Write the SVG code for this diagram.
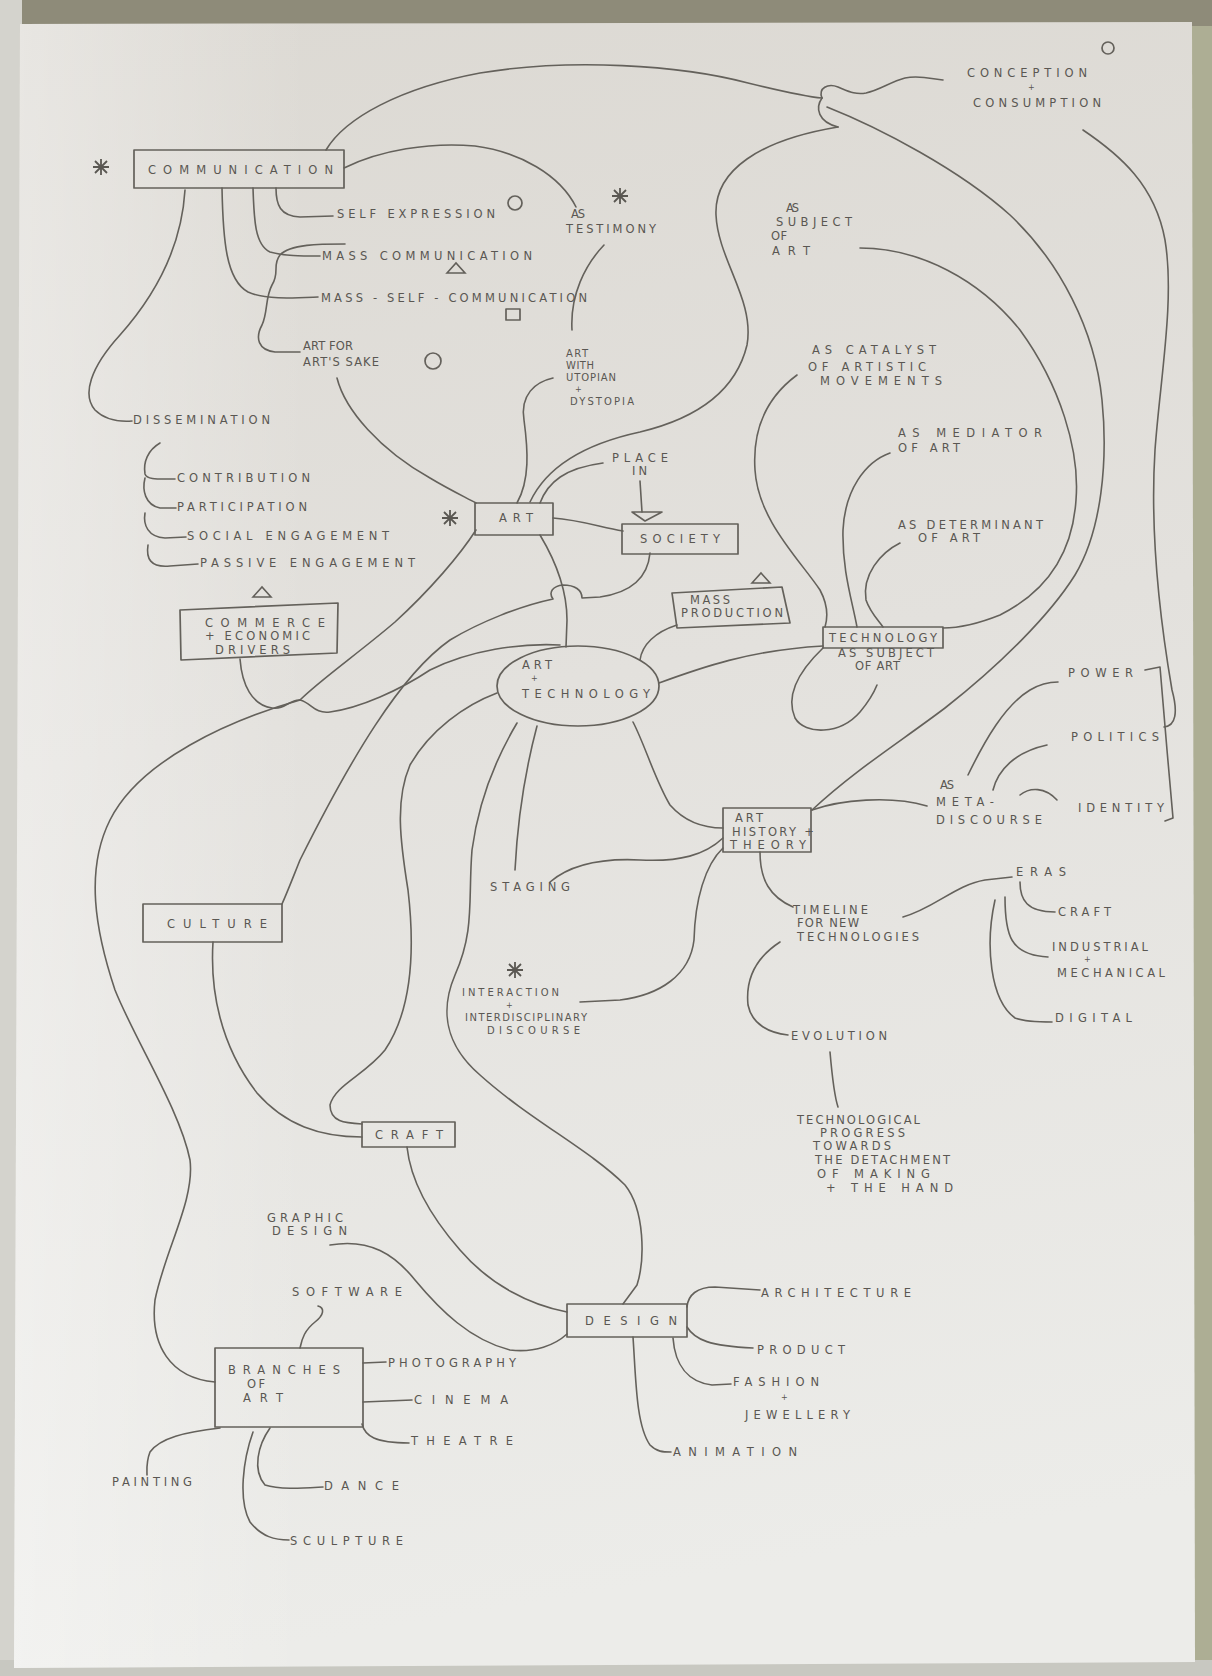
<svg xmlns="http://www.w3.org/2000/svg" width="1212" height="1676" viewBox="0 0 1212 1676">
<defs>
<linearGradient id="paper" x1="0" y1="0" x2="0.12" y2="1">
<stop offset="0" stop-color="#dcd9d3"/>
<stop offset="0.45" stop-color="#e3e1dd"/>
<stop offset="1" stop-color="#ecece9"/>
</linearGradient>
<linearGradient id="side" x1="0" y1="0" x2="1" y2="0">
<stop offset="0" stop-color="#ffffff" stop-opacity="0.35"/>
<stop offset="0.25" stop-color="#ffffff" stop-opacity="0"/>
</linearGradient>
<path id="ast" d="M-8,0H8M0,-8V8M-6,-6L6,6M-6,6L6,-6" fill="none" stroke="#5a5752" stroke-width="1.8"/>
<path id="tri" d="M-9,5 L0,-5 L9,5 Z" fill="none" stroke="#625f59" stroke-width="1.6"/>
<style>
.ln{fill:none;stroke:#64615b;stroke-width:1.6;stroke-linecap:round;stroke-linejoin:round}
.bx{fill:none;stroke:#64615b;stroke-width:1.7;stroke-linejoin:round}
.t{font-family:"DejaVu Sans","Liberation Sans",Arial,sans-serif;font-size:11.5px;fill:#5a5752}
.s{font-family:"DejaVu Sans","Liberation Sans",Arial,sans-serif;font-size:8px;fill:#5a5752}
.m{font-family:"DejaVu Sans","Liberation Sans",Arial,sans-serif;font-size:10px;fill:#5a5752}
</style>
</defs>

<rect width="1212" height="1676" fill="#adae94"/>
<rect width="1212" height="26" fill="#8e8b79"/>
<rect x="0" y="0" width="22" height="1676" fill="#d4d3cd"/>
<rect x="0" y="1660" width="1212" height="16" fill="#c8c8c1"/>
<polygon points="20,24 1192,22 1195,1662 14,1668" fill="url(#paper)"/>
<polygon points="20,24 1192,22 1195,1662 14,1668" fill="url(#side)"/>

<g id="connectors">
<path class="ln" d="M326,150 C345,118 400,88 480,73 C570,58 680,65 748,83 C785,92 810,97 822,98"/>
<path class="ln" d="M822,98 C818,88 828,83 838,87 C848,91 855,95 866,93 C880,90 890,82 905,78 C920,75 932,79 943,80"/>
<path class="ln" d="M822,98 C815,108 818,122 838,127"/>
<path class="ln" d="M530,502 C545,470 580,445 640,432 C690,420 735,395 747,345 C755,300 718,260 716,215 C714,170 760,140 838,127"/>
<path class="ln" d="M827,107 C880,128 960,170 1010,215 C1060,262 1095,330 1102,400 C1108,460 1102,530 1075,575 C1050,615 1000,665 945,708 C900,742 855,770 812,810"/>
<path class="ln" d="M860,248 C920,248 980,280 1020,330 C1060,385 1080,450 1076,500 C1072,560 1040,595 1000,615 C975,625 955,628 943,628"/>
<path class="ln" d="M1083,130 C1120,155 1155,185 1165,240 C1175,300 1160,380 1155,450 C1150,530 1160,620 1172,690 C1178,712 1176,726 1164,727"/>
<path class="ln" d="M1145,670 L1160,667 L1167,750 L1173,818 L1165,821"/>
<path class="ln" d="M344,168 C380,150 430,142 475,146 C520,152 560,175 576,207"/>
<path class="ln" d="M604,245 C585,265 570,295 572,330"/>
<path class="ln" d="M276,188 C276,205 280,216 300,217 L333,216"/>
<path class="ln" d="M253,188 C254,220 255,245 270,252 C285,256 300,256 320,256"/>
<path class="ln" d="M222,188 C223,240 226,280 248,292 C265,300 295,298 318,297"/>
<path class="ln" d="M345,244 C320,244 290,244 280,255 C272,265 280,272 272,285 C265,298 268,312 262,325 C255,338 258,350 275,352 L300,352"/>
<path class="ln" d="M185,190 C182,240 160,290 120,335 C90,368 82,395 95,410 C105,420 118,422 132,421"/>
<path class="ln" d="M160,443 C148,450 143,462 145,474 C147,480 158,479 175,479"/>
<path class="ln" d="M145,478 C142,490 145,505 160,508 L176,508"/>
<path class="ln" d="M145,513 C143,525 148,537 165,538 L186,537"/>
<path class="ln" d="M148,545 C146,558 150,568 170,566 L198,564"/>
<path class="ln" d="M337,378 C345,410 380,450 430,478 C450,490 465,497 476,503"/>
<path class="ln" d="M517,503 C530,480 528,450 524,420 C520,395 535,382 553,378"/>
<path class="ln" d="M540,503 C548,482 565,468 603,463"/>
<path class="ln" d="M640,481 L642,512"/>
<path class="ln" d="M632,512 L662,512 L645,521 Z"/>
<path class="ln" d="M553,518 C580,520 600,527 623,531"/>
<path class="ln" d="M540,535 C555,560 567,590 567,620 L566,647"/>
<path class="ln" d="M650,553 C648,575 635,592 600,597 L582,598 C582,590 575,585 563,585 C553,586 548,592 553,599 C520,606 480,622 450,640 C400,675 350,760 300,860 C292,880 287,893 282,904"/>
<path class="ln" d="M476,530 C460,555 430,590 395,622 C360,652 320,680 300,700"/>
<path class="ln" d="M240,659 C242,685 252,705 272,708 C285,710 290,699 300,700 C312,703 314,714 330,712 C360,708 400,690 430,670 C470,650 520,643 560,645"/>
<path class="ln" d="M300,700 C230,720 140,760 110,820 C85,870 95,930 115,990 C135,1040 180,1110 190,1160 C195,1200 165,1250 155,1300 C150,1345 170,1378 215,1382"/>
<path class="ln" d="M640,660 C642,645 655,632 677,625"/>
<path class="ln" d="M659,683 C700,668 750,650 823,646"/>
<path class="ln" d="M633,722 C645,745 655,780 670,805 C685,822 705,828 723,828"/>
<path class="ln" d="M537,726 C528,760 518,810 515,870"/>
<path class="ln" d="M517,723 C495,760 478,805 472,850 C468,900 475,930 455,975 C440,1010 445,1045 480,1075 C530,1120 590,1150 625,1185 C645,1210 645,1260 637,1285 L623,1304"/>
<path class="ln" d="M497,693 C465,705 430,730 410,765 C395,800 400,840 408,890 C415,950 412,1010 385,1050 C365,1075 335,1085 330,1105 C330,1122 345,1123 362,1124"/>
<path class="ln" d="M797,375 C770,395 752,425 755,470 C758,520 800,560 820,590 C828,605 828,617 825,627"/>
<path class="ln" d="M890,453 C865,462 845,490 843,530 C842,570 852,600 857,627"/>
<path class="ln" d="M900,543 C880,553 862,575 866,600 C870,612 878,620 883,627"/>
<path class="ln" d="M823,648 C800,670 785,695 795,718 C805,735 840,735 860,712 C870,700 875,690 877,685"/>
<path class="ln" d="M812,810 C840,800 890,795 927,806"/>
<path class="ln" d="M968,775 C985,740 1005,705 1030,690 C1040,684 1050,682 1058,682"/>
<path class="ln" d="M993,790 C998,770 1015,752 1047,745"/>
<path class="ln" d="M1020,795 C1030,787 1045,787 1057,800"/>
<path class="ln" d="M760,852 C760,880 770,897 793,907"/>
<path class="ln" d="M723,838 C705,855 680,862 640,860 C600,858 570,865 550,882"/>
<path class="ln" d="M723,848 C705,865 695,900 694,940 C690,975 660,995 620,1000 L580,1002"/>
<path class="ln" d="M903,917 C935,908 955,885 985,880 L1012,877"/>
<path class="ln" d="M1020,882 C1020,900 1027,912 1055,912"/>
<path class="ln" d="M1005,897 C1005,935 1010,955 1048,957"/>
<path class="ln" d="M995,900 C985,945 990,1000 1015,1018 C1025,1022 1040,1022 1052,1022"/>
<path class="ln" d="M780,942 C760,955 745,975 748,1005 C752,1025 770,1033 788,1035"/>
<path class="ln" d="M830,1052 C832,1075 834,1095 838,1107"/>
<path class="ln" d="M213,942 C210,990 220,1045 257,1093 C285,1125 320,1137 362,1137"/>
<path class="ln" d="M407,1147 C410,1175 425,1210 460,1250 C490,1285 530,1305 567,1312"/>
<path class="ln" d="M330,1245 C370,1238 395,1255 415,1280 C440,1310 470,1340 510,1350 C535,1353 555,1345 567,1334"/>
<path class="ln" d="M687,1307 C688,1295 697,1287 715,1287 L760,1290"/>
<path class="ln" d="M687,1327 C695,1340 710,1346 753,1348"/>
<path class="ln" d="M673,1338 C675,1365 688,1382 712,1385 L731,1384"/>
<path class="ln" d="M633,1337 C636,1380 636,1425 650,1445 C657,1452 663,1452 671,1452"/>
<path class="ln" d="M300,1348 C302,1338 305,1330 315,1322 C324,1315 325,1308 318,1306"/>
<path class="ln" d="M363,1363 L386,1362"/>
<path class="ln" d="M363,1402 L412,1400"/>
<path class="ln" d="M362,1424 C365,1436 375,1443 409,1443"/>
<path class="ln" d="M220,1428 C185,1432 160,1438 150,1452 C146,1462 147,1470 147,1475"/>
<path class="ln" d="M270,1428 C258,1445 252,1470 265,1485 C280,1490 305,1488 323,1487"/>
<path class="ln" d="M253,1432 C243,1460 238,1500 250,1522 C262,1537 275,1540 289,1540"/>
</g>

<g id="conception">
<text class="t" x="967" y="77" textLength="120">CONCEPTION</text>
<text class="s" x="1028" y="90">+</text>
<text class="t" x="973" y="107" textLength="128">CONSUMPTION</text>
<circle cx="1108" cy="48" r="6" class="bx"/>
</g>
<g id="communication">
<rect class="bx" x="134" y="150" width="210" height="38"/>
<text class="t" x="148" y="174" textLength="185">COMMUNICATION</text>
<use href="#ast" x="101" y="167"/>
</g>
<g id="self-expression">
<text class="t" x="337" y="218" textLength="158">SELF EXPRESSION</text>
<circle cx="515" cy="203" r="7" class="bx"/>
</g>
<g id="as-testimony">
<text class="t" x="571" y="218" textLength="14">AS</text>
<text class="t" x="566" y="233" textLength="90">TESTIMONY</text>
<use href="#ast" x="620" y="196"/>
</g>
<g id="mass-communication">
<text class="t" x="322" y="260" textLength="210">MASS COMMUNICATION</text>
<use href="#tri" x="456" y="268"/>
</g>
<g id="mass-self-communication">
<text class="t" x="321" y="302" textLength="266">MASS - SELF - COMMUNICATION</text>
<rect class="bx" x="506" y="309" width="14" height="11"/>
</g>
<g id="art-for-arts-sake">
<text class="t" x="303" y="350" textLength="50">ART FOR</text>
<text class="t" x="303" y="366" textLength="76">ART'S SAKE</text>
<circle cx="433" cy="361" r="8" class="bx"/>
</g>
<g id="art-utopian">
<text class="m" x="566" y="357" textLength="22">ART</text>
<text class="m" x="566" y="369" textLength="28">WITH</text>
<text class="m" x="566" y="381" textLength="50">UTOPIAN</text>
<text class="s" x="575" y="392">+</text>
<text class="m" x="570" y="405" textLength="64">DYSTOPIA</text>
</g>
<g id="as-subject">
<text class="t" x="786" y="212" textLength="13">AS</text>
<text class="t" x="776" y="226" textLength="76">SUBJECT</text>
<text class="t" x="771" y="240" textLength="16">OF</text>
<text class="t" x="772" y="255" textLength="38">ART</text>
</g>
<g id="as-catalyst">
<text class="t" x="812" y="354" textLength="124">AS CATALYST</text>
<text class="t" x="808" y="371" textLength="118">OF ARTISTIC</text>
<text class="t" x="820" y="385" textLength="122">MOVEMENTS</text>
</g>
<g id="as-mediator">
<text class="t" x="898" y="437" textLength="144">AS MEDIATOR</text>
<text class="t" x="898" y="452" textLength="62">OF ART</text>
</g>
<g id="as-determinant">
<text class="t" x="898" y="529" textLength="145">AS DETERMINANT</text>
<text class="t" x="918" y="542" textLength="62">OF ART</text>
</g>
<g id="technology-subject">
<rect class="bx" x="823" y="627" width="120" height="21"/>
<text class="t" x="829" y="642" textLength="108">TECHNOLOGY</text>
<text class="t" x="838" y="657" textLength="96">AS SUBJECT</text>
<text class="t" x="855" y="670" textLength="45">OF ART</text>
</g>
<g id="art">
<rect class="bx" x="475" y="503" width="78" height="32"/>
<text class="t" x="499" y="522" textLength="34">ART</text>
<use href="#ast" x="450" y="518"/>
</g>
<g id="place-in">
<text class="t" x="612" y="462" textLength="56">PLACE</text>
<text class="t" x="632" y="475" textLength="15">IN</text>
</g>
<g id="society">
<rect class="bx" x="622" y="524" width="116" height="30"/>
<text class="t" x="640" y="543" textLength="80">SOCIETY</text>
</g>
<g id="mass-production">
<polygon class="bx" points="672,593 782,587 790,623 677,628"/>
<text class="t" x="690" y="604" textLength="40">MASS</text>
<text class="t" x="681" y="617" textLength="102">PRODUCTION</text>
<use href="#tri" x="761" y="578"/>
</g>
<g id="art-technology">
<ellipse class="bx" cx="578" cy="686" rx="81" ry="40"/>
<text class="t" x="522" y="669" textLength="30">ART</text>
<text class="s" x="531" y="681">+</text>
<text class="t" x="522" y="698" textLength="128">TECHNOLOGY</text>
</g>
<g id="dissemination">
<text class="t" x="133" y="424" textLength="137">DISSEMINATION</text>
<text class="t" x="177" y="482" textLength="133">CONTRIBUTION</text>
<text class="t" x="177" y="511" textLength="130">PARTICIPATION</text>
<text class="t" x="187" y="540" textLength="202">SOCIAL ENGAGEMENT</text>
<text class="t" x="200" y="567" textLength="215">PASSIVE ENGAGEMENT</text>
</g>
<g id="commerce">
<use href="#tri" x="262" y="592"/>
<polygon class="bx" points="180,610 338,603 337,653 181,660"/>
<text class="t" x="205" y="627" textLength="120">COMMERCE</text>
<text class="t" x="205" y="640" textLength="105">+ ECONOMIC</text>
<text class="t" x="215" y="654" textLength="75">DRIVERS</text>
</g>
<g id="art-history">
<rect class="bx" x="723" y="808" width="88" height="44"/>
<text class="t" x="735" y="822" textLength="28">ART</text>
<text class="t" x="732" y="836" textLength="82">HISTORY +</text>
<text class="t" x="730" y="849" textLength="76">THEORY</text>
</g>
<g id="meta-discourse">
<text class="t" x="940" y="789" textLength="14">AS</text>
<text class="t" x="936" y="806" textLength="58">META-</text>
<text class="t" x="936" y="824" textLength="106">DISCOURSE</text>
</g>
<g id="power"><text class="t" x="1068" y="677" textLength="65">POWER</text></g>
<g id="politics"><text class="t" x="1071" y="741" textLength="88">POLITICS</text></g>
<g id="identity"><text class="t" x="1078" y="812" textLength="86">IDENTITY</text></g>
<g id="staging"><text class="t" x="490" y="891" textLength="80">STAGING</text></g>
<g id="interaction">
<use href="#ast" x="515" y="970"/>
<text class="m" x="462" y="996" textLength="97">INTERACTION</text>
<text class="s" x="506" y="1008">+</text>
<text class="m" x="465" y="1021" textLength="122">INTERDISCIPLINARY</text>
<text class="m" x="487" y="1034" textLength="93">DISCOURSE</text>
</g>
<g id="timeline">
<text class="t" x="793" y="914" textLength="75">TIMELINE</text>
<text class="t" x="797" y="927" textLength="62">FOR NEW</text>
<text class="t" x="797" y="941" textLength="122">TECHNOLOGIES</text>
</g>
<g id="eras">
<text class="t" x="1016" y="876" textLength="50">ERAS</text>
<text class="t" x="1058" y="916" textLength="53">CRAFT</text>
<text class="t" x="1052" y="951" textLength="96">INDUSTRIAL</text>
<text class="s" x="1084" y="962">+</text>
<text class="t" x="1057" y="977" textLength="108">MECHANICAL</text>
<text class="t" x="1055" y="1022" textLength="77">DIGITAL</text>
</g>
<g id="evolution">
<text class="t" x="791" y="1040" textLength="96">EVOLUTION</text>
<text class="t" x="797" y="1124" textLength="123">TECHNOLOGICAL</text>
<text class="t" x="820" y="1137" textLength="85">PROGRESS</text>
<text class="t" x="813" y="1150" textLength="78">TOWARDS</text>
<text class="t" x="815" y="1164" textLength="135">THE DETACHMENT</text>
<text class="t" x="817" y="1178" textLength="113">OF MAKING</text>
<text class="t" x="826" y="1192" textLength="127">+ THE HAND</text>
</g>
<g id="culture">
<rect class="bx" x="143" y="904" width="139" height="38"/>
<text class="t" x="167" y="928" textLength="100">CULTURE</text>
</g>
<g id="craft">
<rect class="bx" x="362" y="1122" width="93" height="25"/>
<text class="t" x="375" y="1139" textLength="68">CRAFT</text>
</g>
<g id="design">
<rect class="bx" x="567" y="1304" width="120" height="33"/>
<text class="t" x="585" y="1325" textLength="92">DESIGN</text>
<text class="t" x="761" y="1297" textLength="150">ARCHITECTURE</text>
<text class="t" x="757" y="1354" textLength="88">PRODUCT</text>
<text class="t" x="733" y="1386" textLength="86">FASHION</text>
<text class="s" x="781" y="1400">+</text>
<text class="t" x="745" y="1419" textLength="105">JEWELLERY</text>
<text class="t" x="673" y="1456" textLength="124">ANIMATION</text>
</g>
<g id="graphic-design">
<text class="t" x="267" y="1222" textLength="76">GRAPHIC</text>
<text class="t" x="272" y="1235" textLength="75">DESIGN</text>
</g>
<g id="branches">
<text class="t" x="292" y="1296" textLength="110">SOFTWARE</text>
<rect class="bx" x="215" y="1348" width="148" height="79"/>
<text class="t" x="228" y="1374" textLength="112">BRANCHES</text>
<text class="t" x="247" y="1388" textLength="18">OF</text>
<text class="t" x="243" y="1402" textLength="40">ART</text>
<text class="t" x="388" y="1367" textLength="128">PHOTOGRAPHY</text>
<text class="t" x="414" y="1404" textLength="94">CINEMA</text>
<text class="t" x="411" y="1445" textLength="102">THEATRE</text>
<text class="t" x="324" y="1490" textLength="75">DANCE</text>
<text class="t" x="290" y="1545" textLength="113">SCULPTURE</text>
<text class="t" x="112" y="1486" textLength="80">PAINTING</text>
</g>
</svg>
